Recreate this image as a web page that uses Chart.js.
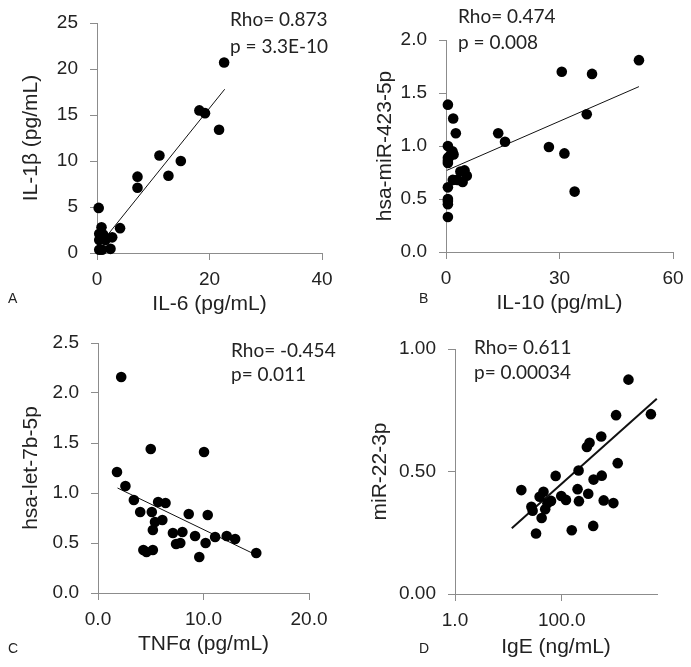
<!DOCTYPE html>
<html>
<head>
<meta charset="utf-8">
<script src="https://cdn.jsdelivr.net/npm/chart.js@4.4.1/dist/chart.umd.min.js"></script>
<style>
  body { margin: 0; background: #fff; }
  #wrap { position: relative; width: 691px; height: 667px; overflow: hidden; }
  canvas { position: absolute; }
  .stat { position: absolute; font-family: Lato, "Open Sans", sans-serif; font-size: 19px; color: #222; white-space: nowrap; }
  .tag { position: absolute; font-family: "Liberation Sans", Arial, sans-serif; font-size: 14px; line-height: 16px; color: #222; }
</style>
</head>
<body>
<div id="wrap">
  <canvas id="cA"></canvas>
  <canvas id="cB"></canvas>
  <canvas id="cC"></canvas>
  <canvas id="cD"></canvas>
  <div class="stat" style="left:230px;top:6px;line-height:26.5px">Rho= 0.873<br>p = 3.3E-10</div>
  <div class="stat" style="left:458px;top:3px;line-height:26px">Rho= 0.474<br>p = 0.008</div>
  <div class="stat" style="left:231px;top:338px;line-height:24px">Rho= -0.454<br>p= 0.011</div>
  <div class="stat" style="left:474px;top:334px;line-height:25px">Rho= 0.611<br>p= 0.00034</div>
  <div class="tag" style="left:8px;top:290px">A</div>
  <div class="tag" style="left:419px;top:290px">B</div>
  <div class="tag" style="left:8px;top:640px">C</div>
  <div class="tag" style="left:419px;top:640px">D</div>
</div>
<script>
// A: IL-6 vs IL-1beta
const aX = [0.3, 0.8, 0.4, 1.1, 0.7, 0.4, 1.5, 2.7, 4.1, 0.4, 0.9, 2.4, 7.2, 7.2, 11.1, 12.7, 14.9, 18.2, 19.2, 21.7, 22.6];
const aY = [4.9, 2.8, 2.1, 2.0, 1.7, 1.4, 1.4, 1.7, 2.7, 0.35, 0.35, 0.45, 8.3, 7.1, 10.6, 8.4, 10.0, 15.5, 15.2, 13.4, 20.7];
const aFitX = [1.8, 22.7];
const aFitY = [1.9, 17.8];

// B: IL-10 vs hsa-miR-423-5p
const bX = [0.5, 1.9, 2.6, 0.5, 1.7, 2.0, 1.1, 0.5, 0.5, 0.5, 3.8, 4.9, 5.5, 1.8, 3.0, 4.4, 0.5, 0.5, 0.5, 0.5, 0.5, 13.8, 15.6, 27.2, 31.3, 34.0, 37.2, 30.6, 38.6, 51.0];
const bY = [1.39, 1.26, 1.12, 1.00, 0.95, 0.92, 0.91, 0.89, 0.86, 0.84, 0.76, 0.77, 0.72, 0.68, 0.68, 0.66, 0.61, 0.50, 0.48, 0.45, 0.33, 1.12, 1.04, 0.99, 0.93, 0.57, 1.30, 1.70, 1.68, 1.81];
const bFitX = [0.2, 51.0];
const bFitY = [0.77, 1.56];

// C: TNFa vs hsa-let-7b-5p
const cX = [2.2, 5.0, 10.05, 1.8, 2.6, 3.4, 5.7, 6.4, 4.0, 5.1, 8.6, 10.4, 6.1, 5.4, 5.2, 7.1, 8.0, 9.2, 11.1, 12.2, 13.0, 7.4, 7.8, 10.2, 4.3, 4.6, 5.2, 9.6, 15.0];
const cY = [2.16, 1.44, 1.41, 1.21, 1.07, 0.93, 0.91, 0.90, 0.81, 0.81, 0.79, 0.78, 0.73, 0.71, 0.63, 0.60, 0.61, 0.57, 0.56, 0.57, 0.54, 0.49, 0.50, 0.50, 0.43, 0.41, 0.43, 0.36, 0.40];
const cFitX = [1.85, 15.0];
const cFitY = [1.05, 0.38];

// D: IgE vs miR-22-3p (log x)
const dX = [1780, 4690, 1043, 550, 332, 296, 1120, 207, 77, 562, 395, 17.5, 198, 45.5, 314, 98, 38.5, 120, 63, 210, 612, 930, 54, 27, 49, 28.5, 42, 154, 389, 33];
const dY = [0.875, 0.734, 0.73, 0.643, 0.617, 0.60, 0.534, 0.504, 0.482, 0.483, 0.467, 0.424, 0.428, 0.417, 0.409, 0.40, 0.397, 0.384, 0.38, 0.379, 0.382, 0.371, 0.37, 0.356, 0.346, 0.34, 0.31, 0.26, 0.278, 0.247];
const dFitX = [11.6, 6050];
const dFitY = [0.268, 0.797];
const dTicks = [1, 100];

const ink = '#222';
const axisGray = '#8c8c8c';
const sans = '"Liberation Sans", Arial, sans-serif';
const tickSize = 19, titleSize = 21;

function pts(xs, ys) {
  return xs.map((x, i) => ({ x: x, y: ys[i] }));
}

function axis(extra, title, pad, fit) {
  return Object.assign({
    grid: { drawOnChartArea: false, tickLength: 7, color: axisGray },
    border: { color: axisGray, width: 1 },
    title: { display: true, text: title, color: ink, font: { family: sans, size: titleSize }, padding: pad },
    afterFit: fit
  }, extra);
}

function panel(id, box, area, yTitleX, xTitleY, d) {
  const cv = document.getElementById(id);
  cv.width = box.w;
  cv.height = box.h;
  cv.style.left = box.x + 'px';
  cv.style.top = box.y + 'px';
  const half = titleSize * 1.2 / 2;
  const yW = area.l - box.x;
  const xH = box.y + box.h - area.b;

  new Chart(cv, {
    type: 'scatter',
    data: {
      datasets: [
        { data: pts(d.xs, d.ys), backgroundColor: '#000', pointRadius: 5.3, pointHoverRadius: 5.3, borderWidth: 0, clip: false },
        { type: 'line', data: pts(d.fitX, d.fitY), borderColor: '#111', borderWidth: d.fitW, pointRadius: 0, showLine: true, fill: false, clip: false }
      ]
    },
    options: {
      responsive: false,
      animation: false,
      events: [],
      layout: { padding: { left: 0, top: area.t - box.y, right: box.x + box.w - area.r, bottom: 0 } },
      plugins: { legend: { display: false }, tooltip: { enabled: false } },
      scales: {
        x: axis(Object.assign({
          position: 'bottom',
          ticks: Object.assign({ color: ink, font: { family: sans, size: tickSize }, padding: 8, maxRotation: 0 }, d.xTicks)
        }, d.xScale), d.xTitle, { top: 0, bottom: box.y + box.h - xTitleY - half }, s => {
          s.height = xH; s.paddingLeft = 0; s.paddingRight = 0;
        }),
        y: axis(Object.assign({
          position: 'left',
          ticks: Object.assign({ color: ink, font: { family: sans, size: tickSize }, padding: 12 }, d.yTicks)
        }, d.yScale), d.yTitle, { top: yTitleX - box.x - half, bottom: 0 }, s => {
          s.width = yW; s.paddingTop = 0; s.paddingBottom = 0;
        })
      }
    }
  });
}

panel('cA', { x: 0, y: 0, w: 345, h: 320 }, { l: 97, r: 322, t: 23, b: 253 }, 31, 304, {
  xs: aX, ys: aY, fitX: aFitX, fitY: aFitY, fitW: 1,
  xTitle: 'IL-6 (pg/mL)', yTitle: 'IL-1β (pg/mL)',
  xScale: { min: 0, max: 40 }, xTicks: { stepSize: 20 },
  yScale: { min: 0, max: 25 }, yTicks: { stepSize: 5 }
});

panel('cB', { x: 345, y: 0, w: 346, h: 320 }, { l: 446, r: 673, t: 40, b: 252 }, 385, 303, {
  xs: bX, ys: bY, fitX: bFitX, fitY: bFitY, fitW: 1,
  xTitle: 'IL-10 (pg/mL)', yTitle: 'hsa-miR-423-5p',
  xScale: { min: 0, max: 60 }, xTicks: { stepSize: 30 },
  yScale: { min: 0, max: 2 }, yTicks: { stepSize: 0.5, callback: v => v.toFixed(1) }
});

panel('cC', { x: 0, y: 320, w: 345, h: 347 }, { l: 98, r: 309, t: 343, b: 593 }, 31, 644, {
  xs: cX, ys: cY, fitX: cFitX, fitY: cFitY, fitW: 1,
  xTitle: 'TNFα (pg/mL)', yTitle: 'hsa-let-7b-5p',
  xScale: { min: 0, max: 20 }, xTicks: { stepSize: 10, callback: v => v.toFixed(1) },
  yScale: { min: 0, max: 2.5 }, yTicks: { stepSize: 0.5, callback: v => v.toFixed(1) }
});

panel('cD', { x: 345, y: 320, w: 346, h: 347 }, { l: 455, r: 657, t: 349, b: 594 }, 380, 647, {
  xs: dX, ys: dY, fitX: dFitX, fitY: dFitY, fitW: 2,
  xTitle: 'IgE (ng/mL)', yTitle: 'miR-22-3p',
  xScale: { type: 'logarithmic', min: 1, max: 6100, bounds: 'data',
            afterBuildTicks: s => { s.ticks = dTicks.map(v => ({ value: v })); } },
  xTicks: { callback: v => Number(v).toFixed(1) },
  yScale: { min: 0, max: 1 }, yTicks: { stepSize: 0.5, callback: v => v.toFixed(2) }
});
</script>
</body>
</html>
